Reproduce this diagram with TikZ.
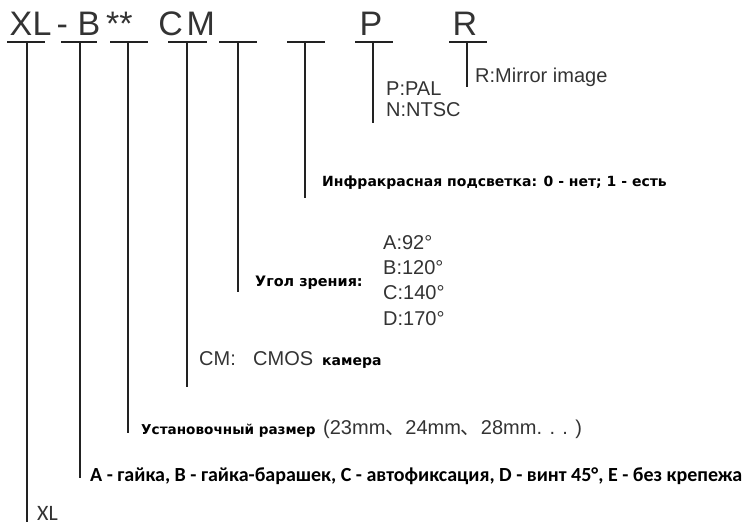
\documentclass[tikz,border=0pt]{standalone}
\usepackage{fontspec}
\setmainfont{Liberation Sans}
\newfontfamily\rubold{DejaVu Sans}
\newfontfamily\calib{Carlito}
\newfontfamily\cjk{Noto Sans CJK SC}
\definecolor{txtgray}{HTML}{333333}
\definecolor{linecol}{HTML}{222222}
\begin{document}
\begin{tikzpicture}[x=1pt,y=-1pt,
  hdr/.style={anchor=base west,inner sep=0,text=txtgray,font=\fontsize{34}{34}\selectfont},
  lab/.style={anchor=base west,inner sep=0,text=txtgray,font=\fontsize{20}{20}\selectfont},
  rub/.style={anchor=base west,inner sep=0,text=black,font=\rubold\bfseries\fontsize{14}{14}\selectfont},
  cal/.style={anchor=base west,inner sep=0,text=black,font=\calib\fontsize{20}{20}\selectfont},
  uline/.style={draw=linecol,line width=1.8pt},
  vline/.style={draw=linecol,line width=1.5pt}]
\useasboundingbox (0,0) rectangle (748,524);
% header characters
\node[hdr] (hX) at (9.5,36) {X};
\node[hdr] (hL) at (32.4,36) {L};
\node[hdr] (hD) at (56.5,36) {-};
\node[hdr] (hB) at (77.5,36) {B};
\node[hdr] (hS) at (106,36) {**};
\node[hdr] (hC) at (158.2,36) {C};
\node[hdr] (hM) at (186.5,36) {M};
\node[hdr] (hP) at (359.4,36) {P};
\node[hdr] (hR) at (452.4,36) {R};
% underline end points
\foreach \n/\a/\b in {1/7/45,2/61/97,3/110/148,4/168/207,5/219/257,6/287/325,7/355/393,8/449/487}{
  \coordinate (ua\n) at (\a,42);
  \coordinate (ub\n) at (\b,42);
}
\foreach \n in {1,...,8}{\draw[uline] (ua\n) -- (ub\n);}
% vertical lines
\foreach \n/\x/\y in {1/27/522,2/80/478,3/128/433,4/187/387,5/238/292,6/305/198,7/373/123,8/467/87}{
  \coordinate (vt\n) at (\x,42);
  \coordinate (vb\n) at (\x,\y);
}
\foreach \n in {1,...,8}{\draw[vline] (vt\n) -- (vb\n);}
% labels
\node[lab] (lR) at (475,83) {R:Mirror image};
\node[lab] (lP) at (386,96) {P:PAL};
\node[lab] (lN) at (386,117) {N:NTSC};
\node[rub] (lIR) at (322,187) {Инфракрасная подсветка: 0 - нет; 1 - есть};
\node[rub,font=\rubold\bfseries\fontsize{14.4}{14.4}\selectfont] (lAng) at (255,287) {Угол зрения:};
\node[lab] (lA) at (383,250) {A:92°};
\node[lab] (lB) at (383,275) {B:120°};
\node[lab] (lC) at (383,300) {C:140°};
\node[lab] (lD) at (383,325) {D:170°};
\node[lab] (lCM) at (199,365) {CM:};
\node[lab] (lCMOS) at (253,365) {CMOS};
\node[rub] (lCam) at (322,365) {камера};
\node[rub,font=\rubold\bfseries\fontsize{13.6}{13.6}\selectfont] (lSize) at (141,434) {Установочный размер};
\node[lab] (lSizes) at (323,434) {(23mm{\cjk 、}24mm{\cjk 、}28mm. . . )};
\node[cal,font=\calib\bfseries\fontsize{20}{20}\selectfont] (lMount) at (90,481) {A - гайка, B - гайка-барашек, C - автофиксация, D - винт 45°, E - без крепежа};
\node[cal,text=txtgray,font=\calib\fontsize{22}{22}\selectfont] (lXL) at (37,520) {XL};
\end{tikzpicture}
\end{document}
